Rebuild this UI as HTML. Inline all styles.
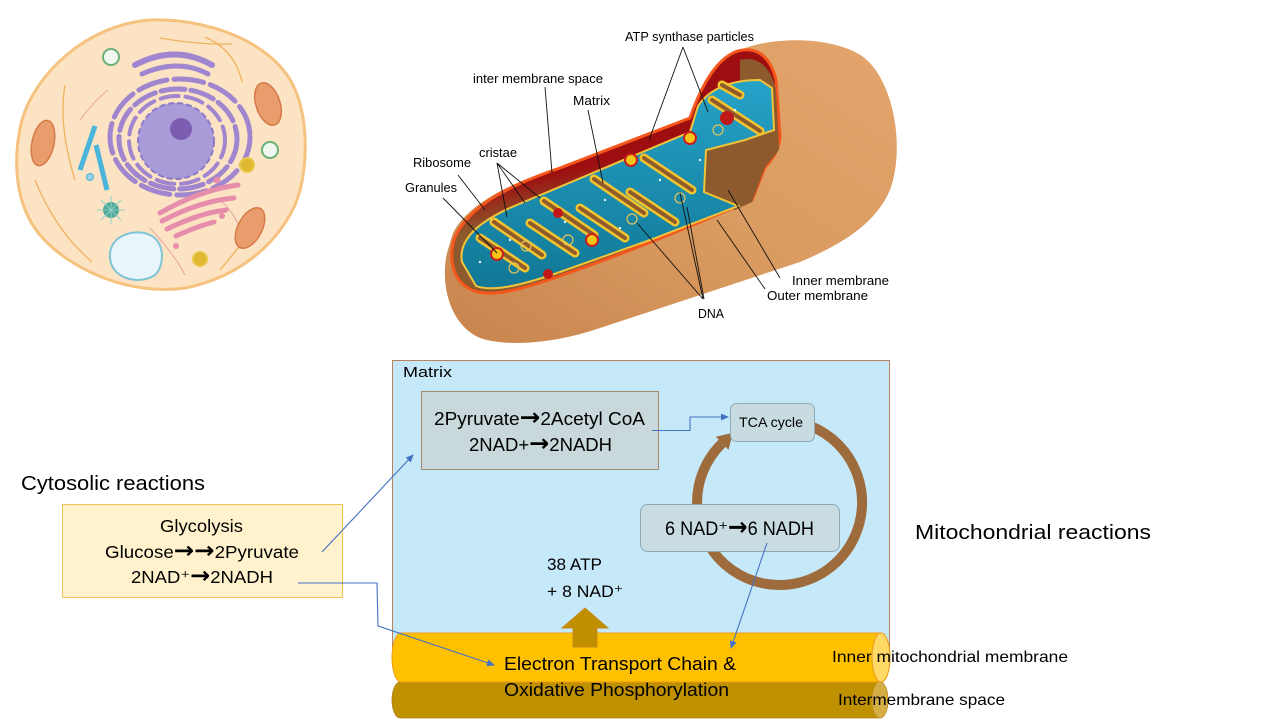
<!DOCTYPE html>
<html><head><meta charset="utf-8"><style>
html,body{margin:0;padding:0;background:#fff;}
svg{display:block;}
text{font-family:"Liberation Sans",sans-serif;fill:#000;}
.ar{font-family:"DejaVu Sans",sans-serif;font-weight:bold;font-size:1.3em;}
</style></head><body>
<svg width="1280" height="720" viewBox="0 0 1280 720" xmlns="http://www.w3.org/2000/svg">
<defs>
<linearGradient id="tan" x1="1" y1="0" x2="0" y2="1">
<stop offset="0" stop-color="#E3A56C"/><stop offset="0.5" stop-color="#DA9B60"/><stop offset="1" stop-color="#C8854E"/>
</linearGradient>
<linearGradient id="blue" x1="0" y1="0" x2="0" y2="1">
<stop offset="0" stop-color="#26A2C8"/><stop offset="1" stop-color="#117896"/>
</linearGradient>
<linearGradient id="open" x1="0" y1="0" x2="0.3" y2="1">
<stop offset="0" stop-color="#9E0E10"/><stop offset="0.55" stop-color="#9E0E10"/><stop offset="0.7" stop-color="#8C5A2C"/><stop offset="1" stop-color="#8C5A2C"/>
</linearGradient>
<marker id="ah" markerWidth="8" markerHeight="8" refX="7" refY="4" orient="auto" markerUnits="userSpaceOnUse">
<path d="M0,0.5 L8,4 L0,7.5 Z" fill="#4472C4"/>
</marker>
</defs>

<!-- ============ CELL ============ -->
<path d="M150,20 C205,18 270,40 293,85 C310,120 308,175 295,205 C275,248 235,278 185,288 C130,296 70,270 40,235 C15,205 12,160 22,120 C35,75 85,25 150,20 Z" fill="#FCE3C3" stroke="#F6C27F" stroke-width="3"/>
<g fill="none" stroke="#EFB25E" stroke-width="1.3">
<path d="M160,38 Q200,45 232,44"/><path d="M205,37 Q235,50 242,82"/><path d="M65,85 Q58,125 75,180"/>
<path d="M35,180 Q55,230 92,262"/><path d="M220,270 Q245,240 262,218"/>
</g>
<g fill="none" stroke="#E9A6A0" stroke-width="1"><path d="M80,120 Q95,100 108,90"/><path d="M220,200 Q232,210 240,228"/><path d="M150,228 Q175,255 185,275"/></g>
<!-- ER -->
<g fill="none" stroke="#A086CE" stroke-width="5" stroke-linecap="round">
<ellipse cx="180" cy="137" rx="70" ry="58" stroke-dasharray="30 7"/>
<ellipse cx="178" cy="139" rx="59" ry="50" stroke-dasharray="24 6"/>
<ellipse cx="177" cy="140" rx="48" ry="44" stroke-dasharray="18 7" stroke-width="4"/>
<path d="M135,65 Q175,44 212,65" stroke-width="6"/><path d="M142,74 Q178,58 208,74"/>
</g>
<circle cx="176" cy="141" r="38" fill="#A99BD8" stroke="#8C79C8" stroke-width="2" stroke-dasharray="6 3"/>
<circle cx="181" cy="129" r="11" fill="#7C5DB1"/>
<!-- golgi -->
<g fill="none" stroke="#E78DAC" stroke-width="5" stroke-linecap="round">
<path d="M160,213 Q200,190 238,185"/><path d="M162,221 Q200,201 234,198"/><path d="M167,229 Q200,213 226,210"/><path d="M176,236 Q198,226 214,222"/>
</g>
<circle cx="176" cy="246" r="3" fill="#E78DAC"/><circle cx="217" cy="180" r="3.5" fill="#E78DAC"/><circle cx="222" cy="216" r="3" fill="#E78DAC"/>
<!-- mitochondria -->
<g fill="#E99C6C" stroke="#D67A48" stroke-width="1.5">
<ellipse cx="43" cy="143" rx="11" ry="23" transform="rotate(12 43 143)"/>
<ellipse cx="268" cy="104" rx="12" ry="22" transform="rotate(-18 268 104)"/>
<ellipse cx="250" cy="228" rx="12" ry="22" transform="rotate(28 250 228)"/>
</g>
<!-- vacuole -->
<path d="M110,258 C108,235 135,228 150,235 C165,242 165,265 155,275 C140,285 112,280 110,258 Z" fill="#E8F5FA" stroke="#7FC4D6" stroke-width="2"/>
<!-- rods -->
<g stroke="#4AB4DA" stroke-width="5"><line x1="95" y1="126" x2="80" y2="170"/><line x1="96" y1="145" x2="107" y2="190"/></g>
<circle cx="90" cy="177" r="3.5" fill="#9BD0E8" stroke="#4AB4DA"/>
<circle cx="111" cy="57" r="8" fill="#F1F8F0" stroke="#6BB07A" stroke-width="2"/>
<circle cx="270" cy="150" r="8" fill="#F1F8F0" stroke="#6BB07A" stroke-width="2"/>
<circle cx="247" cy="165" r="7" fill="#E0B832" stroke="#E8C84A" stroke-width="2"/>
<circle cx="200" cy="259" r="7" fill="#E0B832" stroke="#E8C84A" stroke-width="2"/>
<circle cx="111" cy="210" r="8" fill="#4FA99A"/>
<g stroke="#8FD0C2" stroke-width="1"><line x1="111" y1="196" x2="111" y2="224"/><line x1="97" y1="210" x2="125" y2="210"/><line x1="101" y1="200" x2="121" y2="220"/><line x1="121" y1="200" x2="101" y2="220"/></g>

<!-- ============ MITOCHONDRION ============ -->
<path d="M453,233 C470,200 520,180 560,167 L693,117 C700,95 712,60 740,50 C770,37 830,35 862,56 C895,80 905,150 890,190 C875,225 840,245 800,262 L600,328 C560,342 510,348 480,338 C450,325 440,285 447,253 Z" fill="url(#tan)"/>
<path d="M455,237 C470,205 510,185 560,168 L690,118 C698,95 712,62 735,52 C755,45 770,55 776,80 L780,137 C779,150 772,160 765,167 L752,200 C700,222 640,248 560,276 C520,290 490,298 472,290 C452,281 448,258 455,237 Z" fill="url(#open)" stroke="#F4561C" stroke-width="3"/>
<path d="M740,60 C760,55 772,70 776,90 L779,150 L765,167 L752,202 L735,210 L705,195 L705,150 L740,140 Z" fill="#8C5A2C"/>
<path d="M462,262 C458,240 478,222 512,207 L690,132 L698,106 C710,88 732,80 760,80 L772,88 L774,130 L745,140 L706,150 L704,192 L738,206 L650,240 L560,272 C520,286 492,292 476,286 Z" fill="url(#blue)" stroke="#F0C43A" stroke-width="2"/>
<g fill="none" stroke-linecap="round">
<g stroke="#F2C530" stroke-width="9">
<path d="M494,222 l48,33"/><path d="M544,201 l50,34"/><path d="M594,179 l50,34"/><path d="M644,158 l48,32"/><path d="M712,100 l48,31"/>
<path d="M525,268 l-45,-30"/><path d="M575,253 l-45,-30"/><path d="M625,238 l-45,-30"/><path d="M675,222 l-45,-30"/><path d="M740,95 l-18,-10"/>
</g>
<g stroke="#8F5B2A" stroke-width="4">
<path d="M494,222 l48,33"/><path d="M544,201 l50,34"/><path d="M594,179 l50,34"/><path d="M644,158 l48,32"/><path d="M712,100 l48,31"/>
<path d="M525,268 l-45,-30"/><path d="M575,253 l-45,-30"/><path d="M625,238 l-45,-30"/><path d="M675,222 l-45,-30"/><path d="M740,95 l-18,-10"/>
</g>
</g>
<g>
<circle cx="497" cy="254" r="6" fill="#F5C518" stroke="#C81E1E" stroke-width="2"/>
<circle cx="592" cy="240" r="6" fill="#F5C518" stroke="#C81E1E" stroke-width="2"/>
<circle cx="631" cy="160" r="6" fill="#F5C518" stroke="#C81E1E" stroke-width="2"/>
<circle cx="690" cy="138" r="6" fill="#F5C518" stroke="#C81E1E" stroke-width="2"/>
<circle cx="727" cy="118" r="7" fill="#C01818"/>
<circle cx="558" cy="213" r="5" fill="#C01818"/>
<circle cx="548" cy="274" r="5" fill="#C01818"/>
</g>
<g fill="none" stroke="#E6C35A" stroke-width="1.2">
<circle cx="514" cy="268" r="5"/><circle cx="568" cy="240" r="5"/><circle cx="632" cy="219" r="5"/><circle cx="680" cy="198" r="5"/><circle cx="718" cy="130" r="5"/><circle cx="526" cy="246" r="5"/>
</g>
<g fill="#DDF2FA">
<circle cx="480" cy="262" r="1.2"/><circle cx="510" cy="240" r="1.2"/><circle cx="565" cy="222" r="1.2"/><circle cx="605" cy="200" r="1.2"/><circle cx="620" cy="228" r="1.2"/><circle cx="660" cy="180" r="1.2"/><circle cx="700" cy="160" r="1.2"/><circle cx="735" cy="110" r="1.2"/>
</g>
<!-- leader lines -->
<g stroke="#111" stroke-width="0.9" fill="none">
<path d="M683,47 L649,140"/><path d="M683,47 L708,112"/>
<path d="M545,87 L552,173"/>
<path d="M588,110 L603,183"/>
<path d="M497,163 L507,217"/><path d="M497,163 L525,203"/><path d="M497,163 L540,198"/>
<path d="M458,175 L485,210"/>
<path d="M443,198 L497,253"/>
<path d="M780,278 L728,190"/>
<path d="M765,289 L717,220"/>
<path d="M703,299 L637,223"/><path d="M703,299 L680,193"/><path d="M704,299 L687,207"/>
</g>
<g font-size="12.5">
<text x="625" y="41" textLength="129" lengthAdjust="spacingAndGlyphs">ATP synthase particles</text>
<text x="473" y="83" textLength="130" lengthAdjust="spacingAndGlyphs">inter membrane space</text>
<text x="573" y="105" textLength="37" lengthAdjust="spacingAndGlyphs">Matrix</text>
<text x="479" y="157" textLength="38" lengthAdjust="spacingAndGlyphs">cristae</text>
<text x="413" y="167" textLength="58" lengthAdjust="spacingAndGlyphs">Ribosome</text>
<text x="405" y="192" textLength="52" lengthAdjust="spacingAndGlyphs">Granules</text>
<text x="792" y="285" textLength="97" lengthAdjust="spacingAndGlyphs">Inner membrane</text>
<text x="767" y="300" textLength="101" lengthAdjust="spacingAndGlyphs">Outer membrane</text>
<text x="698" y="318" textLength="26" lengthAdjust="spacingAndGlyphs">DNA</text>
</g>

<!-- ============ BOTTOM DIAGRAM ============ -->
<rect x="392.5" y="360.5" width="497" height="288" fill="#C6E9F9" stroke="#B98558" stroke-width="1"/>
<text x="403" y="377" font-size="15" textLength="49" lengthAdjust="spacingAndGlyphs">Matrix</text>

<!-- TCA ring -->
<path d="M800.9,422.8 A82.5,82.5 0 1 1 722.2,443.2" fill="none" stroke="#9E6B3C" stroke-width="10"/>
<path d="M733,432.8 L715.9,436.7 L728.5,449.7 Z" fill="#9E6B3C"/>

<!-- boxes -->
<rect x="421.5" y="391.5" width="237" height="78" fill="#C8D8DB" stroke="#A48A6C" stroke-width="1"/>
<text x="434" y="425" font-size="18" textLength="211" lengthAdjust="spacingAndGlyphs">2Pyruvate<tspan class="ar">→</tspan>2Acetyl CoA</text>
<text x="469" y="451" font-size="18" textLength="143" lengthAdjust="spacingAndGlyphs">2NAD+<tspan class="ar">→</tspan>2NADH</text>

<rect x="730.5" y="403.5" width="84" height="38" rx="6" fill="#C7DBE0" stroke="#8EAAB6" stroke-width="1"/>
<text x="739" y="427" font-size="14" textLength="64" lengthAdjust="spacingAndGlyphs">TCA cycle</text>

<rect x="640.5" y="504.5" width="199" height="47" rx="7" fill="#C8DCE1" stroke="#8EAAB6" stroke-width="1"/>
<text x="665" y="535" font-size="19" textLength="149" lengthAdjust="spacingAndGlyphs">6 NAD⁺<tspan class="ar">→</tspan>6 NADH</text>

<text x="547" y="570" font-size="17" textLength="55" lengthAdjust="spacingAndGlyphs">38 ATP</text>
<text x="547" y="597" font-size="17" textLength="76" lengthAdjust="spacingAndGlyphs">+ 8 NAD⁺</text>

<!-- cylinders -->
<path d="M400,682 L880,682 A8,18 0 0 1 880,718 L400,718 A8,18 0 0 1 400,682 Z" fill="#BF9000" stroke="#B08418" stroke-width="0.8"/>
<ellipse cx="880" cy="700" rx="8" ry="18" fill="#D6AE48" stroke="#C09020" stroke-width="0.8"/>
<path d="M401,633 L881,633 A9,24.5 0 0 1 881,682 L401,682 A9,24.5 0 0 1 401,633 Z" fill="#FFC000" stroke="#EE9A1A" stroke-width="1"/>
<ellipse cx="881" cy="657.5" rx="9" ry="24.5" fill="#FFD966" stroke="#EE9A1A" stroke-width="1"/>

<!-- up arrow -->
<path d="M585,608 L608,628 L597,628 L597,647 L573,647 L573,628 L562,628 Z" fill="#BF8F00" stroke="#C98A1A" stroke-width="1"/>

<text x="504" y="670" font-size="18" textLength="232" lengthAdjust="spacingAndGlyphs">Electron Transport Chain &amp;</text>
<text x="504" y="696" font-size="18" textLength="225" lengthAdjust="spacingAndGlyphs">Oxidative Phosphorylation</text>

<text x="832" y="662" font-size="16" fill="#1a1a1a" textLength="236" lengthAdjust="spacingAndGlyphs">Inner mitochondrial membrane</text>
<text x="838" y="705" font-size="16" fill="#1a1a1a" textLength="167" lengthAdjust="spacingAndGlyphs">Intermembrane space</text>

<!-- glycolysis -->
<text x="21" y="490" font-size="20" textLength="184" lengthAdjust="spacingAndGlyphs">Cytosolic reactions</text>
<rect x="62.5" y="504.5" width="280" height="93" fill="#FFF2CC" stroke="#EFC356" stroke-width="1"/>
<text x="160" y="532" font-size="17.5" textLength="83" lengthAdjust="spacingAndGlyphs">Glycolysis</text>
<text x="105" y="558" font-size="17.5" textLength="194" lengthAdjust="spacingAndGlyphs">Glucose<tspan class="ar">→→</tspan>2Pyruvate</text>
<text x="131" y="583" font-size="17.5" textLength="142" lengthAdjust="spacingAndGlyphs">2NAD⁺<tspan class="ar">→</tspan>2NADH</text>

<text x="915" y="539" font-size="20" textLength="236" lengthAdjust="spacingAndGlyphs">Mitochondrial reactions</text>

<!-- connectors -->
<g fill="none" stroke="#4472C4" stroke-width="1.1">
<path d="M322,552 L413,455" marker-end="url(#ah)"/>
<path d="M298,583 L377,583 L378,626 L494,665" marker-end="url(#ah)"/>
<path d="M652,430.5 L690,430.5 L690,417 L728,417" marker-end="url(#ah)"/>
<path d="M767,543 L731,648" marker-end="url(#ah)"/>
</g>
</svg>
</body></html>
